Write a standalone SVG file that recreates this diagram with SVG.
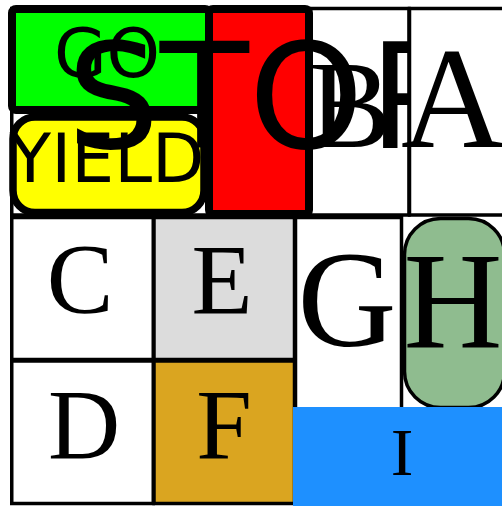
<svg xmlns="http://www.w3.org/2000/svg" width="502" height="506" viewBox="0 0 502 506">
<style>
.cell{stroke:#000;stroke-width:3.5}
.serif{font-family:"Liberation Serif","Times New Roman",serif;fill:#000;text-anchor:middle}
.sans{font-family:"DejaVu Sans",sans-serif;fill:#000}
.box{stroke:#000;stroke-width:8}
</style>
<rect width="502" height="506" fill="#fff"/>
<g id="cell-top-left"><rect class="cell" x="11.75" y="8.5" width="297" height="206.5" fill="#fff"/></g>
<g id="cell-b"><rect class="cell" x="309" y="8.5" width="100" height="206.5" fill="none"/></g>
<g id="cell-c"><rect class="cell" x="11.75" y="217.5" width="141.5" height="142" fill="#fff"/><text class="serif" x="80" y="312" font-size="100">C</text></g>
<g id="cell-d"><rect class="cell" x="11.75" y="361" width="141.5" height="142.5" fill="#fff"/><text class="serif" x="84" y="458" font-size="100">D</text></g>
<g id="cell-e"><rect class="cell" x="154" y="217.5" width="140.5" height="142" fill="#dcdcdc"/><text class="serif" x="222" y="313" font-size="100">E</text></g>
<g id="cell-f"><rect class="cell" x="154" y="361" width="140.5" height="142.5" fill="#daa520"/><text class="serif" x="224" y="458" font-size="100">F</text></g>
<g id="cell-g"><rect class="cell" x="295.5" y="217.5" width="106" height="192" fill="#fff"/><text class="serif" x="347" y="346" font-size="137">G</text></g>
<g id="cell-h"><rect x="404.5" y="218.5" width="100" height="189" rx="36" fill="#8fbc8f" stroke="#000" stroke-width="3.5"/><text class="serif" x="453" y="347" font-size="137">H</text></g>
<g id="cell-i"><rect x="293" y="407" width="212" height="102" fill="#1e90ff"/><text class="serif" x="402" y="475" font-size="68">I</text></g>
<g id="go"><rect class="box" x="12" y="9" width="197" height="101" rx="4" fill="#00ff00"/><text class="sans" x="107" y="77" font-size="68" text-anchor="middle">GO</text></g>
<g id="yield"><rect x="13" y="117" width="191" height="95.5" rx="22" fill="#ffff00" stroke="#000" stroke-width="7.5"/><text class="sans" x="107" y="182" font-size="68" text-anchor="middle">YIELD</text></g>
<g id="stop-box"><rect class="box" x="209" y="9" width="100" height="205" rx="4" fill="#ff0000"/></g>
<g id="stop-text"><text class="sans" x="67" y="148" font-size="146">STO<tspan dx="5">P</tspan></text></g>
<g id="b-label"><text class="serif" x="350" y="147" font-size="124">B</text></g>
<g id="cell-a"><rect class="cell" x="409.5" y="8.5" width="100" height="206.5" fill="#fff"/><text class="serif" x="453" y="147" font-size="144">A</text></g>
</svg>
